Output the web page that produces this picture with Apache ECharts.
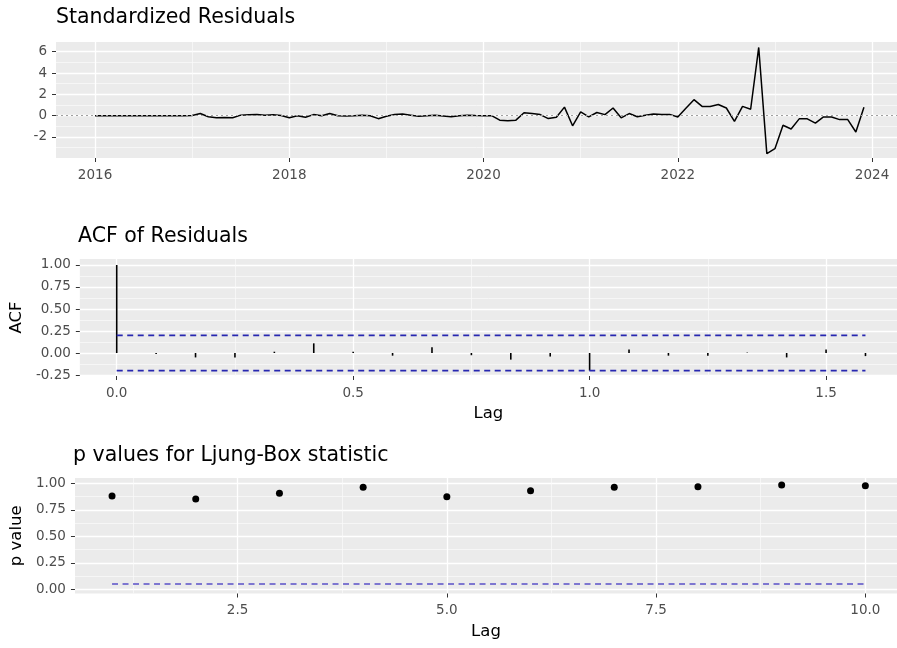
<!DOCTYPE html>
<html>
<head>
<meta charset="utf-8">
<script src="https://cdn.jsdelivr.net/npm/echarts@6/dist/echarts.min.js"></script>
<style>
html,body{margin:0;padding:0;background:#ffffff;}
#chart{width:897px;height:648px;}
</style>
</head>
<body>
<div id="chart"></div>
<script>
// ---------- DATA ----------
const residStartYear = 2016;            // monthly series starting Jan 2016
const residuals = [
  0, 0, 0, 0, 0, 0, 0, 0, 0, 0, 0, 0,                       // 2016
  0.02, 0.2, -0.1, -0.2, -0.18, -0.2, 0.05, 0.08, 0.1, 0.05, 0.08, 0.02,   // 2017
  -0.2, 0.0, -0.15, 0.1, 0.0, 0.2, 0.0, -0.02, 0.0, 0.05, 0.0, -0.28,     // 2018
  -0.05, 0.1, 0.15, 0.05, -0.05, 0.0, 0.05, -0.02, -0.1, 0.0, 0.05, 0.02, // 2019
  0.0, 0.0, -0.42, -0.48, -0.42, 0.27, 0.2, 0.1, -0.27, -0.15, 0.8, -0.95, // 2020
  0.35, -0.12, 0.3, 0.1, 0.72, -0.2, 0.2, -0.1, 0.05, 0.15, 0.12, 0.12,   // 2021
  -0.12, 0.7, 1.5, 0.87, 0.87, 1.05, 0.72, -0.53, 0.87, 0.6, 6.4, -3.56,   // 2022
  -3.1, -0.9, -1.25, -0.3, -0.3, -0.7, -0.12, -0.12, -0.37, -0.37, -1.53, 0.78 // 2023
];
const residYearTicks = [2016, 2018, 2020, 2022, 2024];
const residYearMinor = [2017, 2019, 2021, 2023];
const residYTicks = [-2, 0, 2, 4, 6];
const residYMinor = [-3, -1, 1, 3, 5];
const residZero = 0;

const acfLagMonths = [0,1,2,3,4,5,6,7,8,9,10,11,12,13,14,15,16,17,18,19];
const acfValues = [1.0, -0.01, -0.05, -0.05, 0.015, 0.11, 0.015, -0.03, 0.065, -0.025,
                   -0.075, -0.04, -0.2, 0.04, -0.03, -0.03, 0.005, -0.05, 0.04, -0.035];
const acfCI = 0.2;
const acfXTicks = [0, 0.5, 1.0, 1.5];
const acfXMinor = [0.25, 0.75, 1.25];
const acfYTicks = [-0.25, 0, 0.25, 0.5, 0.75, 1.0];
const acfYMinor = [-0.125, 0.125, 0.375, 0.625, 0.875];

const lbLags = [1,2,3,4,5,6,7,8,9,10];
const lbPValues = [0.88, 0.852, 0.905, 0.962, 0.874, 0.93, 0.962, 0.968, 0.984, 0.977];
const lbThreshold = 0.05;
const lbXTicks = [2.5, 5.0, 7.5, 10.0];
const lbXMinor = [1.25, 3.75, 6.25, 8.75];
const lbYTicks = [0, 0.25, 0.5, 0.75, 1.0];
const lbYMinor = [0.125, 0.375, 0.625, 0.875];

// ---------- BUILD ----------
const FONT = 'DejaVu Sans';
const residData = residuals.map((v, i) => [residStartYear + i / 12, v]);
const acfData = acfLagMonths.map((k, i) => [k / 12, acfValues[i]]);
const acfLast = acfLagMonths[acfLagMonths.length - 1] / 12;
const lbData = lbLags.map((l, i) => [l, lbPValues[i]]);

function majorAxis(grid, dim, min, max, ticks, fmt, extra) {
  return Object.assign({
    type: 'value', gridIndex: grid, min: min, max: max,
    position: dim === 'x' ? 'bottom' : 'left',
    axisLine: { show: false, onZero: false },
    axisTick: { show: true, length: 4, lineStyle: { color: '#333333', width: 1 }, customValues: ticks },
    axisLabel: { show: true, customValues: ticks, formatter: fmt, color: '#4d4d4d',
                 fontSize: 13.5, fontFamily: FONT, margin: dim === 'x' ? 10 : 9 },
    splitLine: { show: true, lineStyle: { color: '#ffffff', width: 1.3 } }
  }, extra || {});
}
function minorAxis(grid, dim, min, max, ticks) {
  return {
    type: 'value', gridIndex: grid, min: min, max: max,
    position: dim === 'x' ? 'top' : 'right',
    axisLine: { show: false, onZero: false },
    axisTick: { show: false, customValues: ticks },
    axisLabel: { show: false, customValues: ticks },
    splitLine: { show: true, lineStyle: { color: '#fafafa', width: 0.7 } }
  };
}
const nameStyle = { fontSize: 16.5, fontFamily: FONT, color: '#000000' };

const option = {
  backgroundColor: '#ffffff',
  animation: false,
  title: [
    { text: 'Standardized Residuals', left: 56, top: 7, padding: 0,
      textStyle: { fontSize: 20.5, fontWeight: 'normal', color: '#000', fontFamily: FONT } },
    { text: 'ACF of Residuals', left: 78, top: 226, padding: 0,
      textStyle: { fontSize: 20.5, fontWeight: 'normal', color: '#000', fontFamily: FONT } },
    { text: 'p values for Ljung-Box statistic', left: 73, top: 445, padding: 0,
      textStyle: { fontSize: 20.5, fontWeight: 'normal', color: '#000', fontFamily: FONT } }
  ],
  grid: [
    { left: 56, top: 42, width: 841, height: 116, show: true, backgroundColor: '#ebebeb', borderWidth: 0 },
    { left: 78, top: 259, width: 819, height: 117, show: true, backgroundColor: '#ebebeb', borderWidth: 0 },
    { left: 73, top: 478, width: 824, height: 115.5, show: true, backgroundColor: '#ebebeb', borderWidth: 0 }
  ],
  xAxis: [
    majorAxis(0, 'x', 2015.598, 2024.257, residYearTicks, v => String(Math.round(v))),
    minorAxis(0, 'x', 2015.598, 2024.257, residYearMinor),
    majorAxis(1, 'x', -0.078, 1.650, acfXTicks, v => v.toFixed(1),
      { name: 'Lag', nameLocation: 'middle', nameGap: 29, nameTextStyle: nameStyle }),
    minorAxis(1, 'x', -0.078, 1.650, acfXMinor),
    majorAxis(2, 'x', 0.557, 10.378, lbXTicks, v => v.toFixed(1),
      { name: 'Lag', nameLocation: 'middle', nameGap: 30, nameTextStyle: nameStyle }),
    minorAxis(2, 'x', 0.557, 10.378, lbXMinor)
  ],
  yAxis: [
    majorAxis(0, 'y', -3.97, 6.91, residYTicks, v => String(Math.round(v))),
    minorAxis(0, 'y', -3.97, 6.91, residYMinor),
    majorAxis(1, 'y', -0.261, 1.068, acfYTicks, v => v.toFixed(2),
      { name: 'ACF', nameLocation: 'middle', nameGap: 48, nameRotate: 90, nameTextStyle: nameStyle }),
    minorAxis(1, 'y', -0.261, 1.068, acfYMinor),
    majorAxis(2, 'y', -0.04, 1.05, lbYTicks, v => v.toFixed(2),
      { name: 'p value', nameLocation: 'middle', nameGap: 44, nameRotate: 90, nameTextStyle: nameStyle }),
    minorAxis(2, 'y', -0.04, 1.05, lbYMinor)
  ],
  series: [
    {
      type: 'line', xAxisIndex: 0, yAxisIndex: 0, data: residData,
      showSymbol: false, symbol: 'none', smooth: false,
      lineStyle: { color: '#000000', width: 1.5 },
      markLine: {
        silent: true, symbol: 'none', label: { show: false },
        lineStyle: { color: '#a0a0a0', type: [2, 3], width: 1 },
        data: [{ yAxis: residZero }]
      },
      z: 3
    },
    {
      type: 'bar', xAxisIndex: 2, yAxisIndex: 2, data: acfData,
      barWidth: 1.6, itemStyle: { color: '#000000', opacity: 1 }, z: 3
    },
    {
      type: 'line', xAxisIndex: 2, yAxisIndex: 2, symbol: 'none',
      data: [[0, acfCI], [acfLast, acfCI]],
      lineStyle: { color: '#2727b0', width: 1.6, type: [6, 4.5] }, z: 4
    },
    {
      type: 'line', xAxisIndex: 2, yAxisIndex: 2, symbol: 'none',
      data: [[0, -acfCI], [acfLast, -acfCI]],
      lineStyle: { color: '#2727b0', width: 1.6, type: [6, 4.5] }, z: 4
    },
    {
      type: 'scatter', xAxisIndex: 4, yAxisIndex: 4, data: lbData,
      symbol: 'circle', symbolSize: 7, itemStyle: { color: '#000000', opacity: 1 }, z: 4
    },
    {
      type: 'line', xAxisIndex: 4, yAxisIndex: 4, symbol: 'none',
      data: [[lbLags[0], lbThreshold], [lbLags[lbLags.length - 1], lbThreshold]],
      lineStyle: { color: '#5a50c8', width: 1.6, type: [6, 4.5] }, z: 3
    }
  ]
};

const chart = echarts.init(document.getElementById('chart'), null, { renderer: 'canvas' });
chart.setOption(option);
</script>
</body>
</html>
